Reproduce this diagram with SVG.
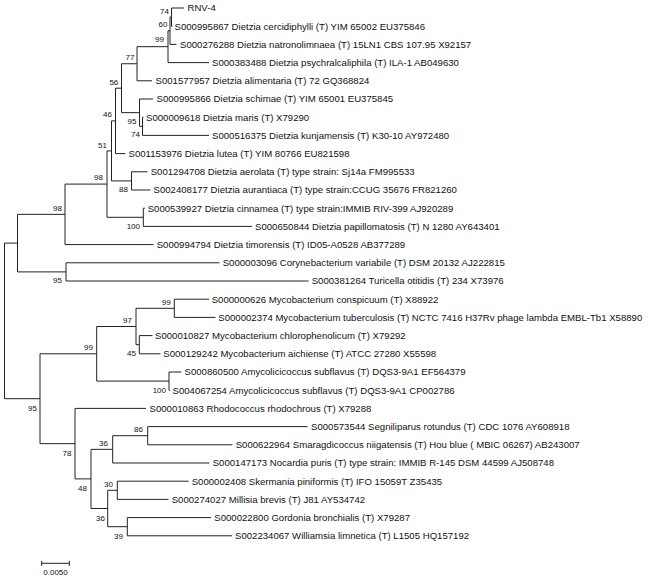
<svg xmlns="http://www.w3.org/2000/svg" width="650" height="579" viewBox="0 0 650 579">
<style>
.br{fill:none;stroke:#222;stroke-width:1}
.lf{font-family:"Liberation Sans",Arial,sans-serif;font-size:9.6px;fill:#111}
.bs{font-family:"Liberation Sans",Arial,sans-serif;font-size:8px;fill:#111;text-anchor:end}
.sc{font-family:"Liberation Sans",Arial,sans-serif;font-size:8px;fill:#111;text-anchor:middle}
</style>
<rect width="650" height="579" fill="#fff"/>
<g id="connectors" class="br">
<path d="M4.5,243.1V398.7 M4.5,243.1H17.5 M4.5,398.7H40
M17.5,214.35V271.9 M17.5,214.35H65 M17.5,271.9H66
M65,184.1V244.6 M65,184.1H107 M65,244.6H153.5
M66,262.8V281 M66,262.8H219.5 M66,281H308.5
M107,150.9V217.3 M107,150.9H111.5 M107,217.3H143.3
M143.3,208.2V226.4 M143.3,208.2H145 M143.3,226.4H252
M111.5,120.9V180.9 M111.5,120.9H115.5 M111.5,180.9H131.5
M131.5,171.8V190 M131.5,171.8H147.5 M131.5,190H150.5
M115.5,88.19V153.6 M115.5,88.19H121.5 M115.5,153.6H125.5
M121.5,63.74V112.65 M121.5,63.74H137 M121.5,112.65H139.5
M139.5,99V126.3 M139.5,99H153 M139.5,126.3H142.5
M142.5,117.2V135.4 M142.5,117.2H143.5 M142.5,135.4H209
M137,46.675V80.8 M137,46.675H168 M137,80.8H152
M168,30.75V62.6 M168,30.75H170 M168,62.6H209
M170,17.1V44.4 M170,17.1H171.5 M170,44.4H176.5
M171.5,8V26.2 M171.5,8H184 M171.5,26.2H172.5
M40,353.8V443.65 M40,353.8H96.7 M40,443.65H75
M96.7,326.5V381.1 M96.7,326.5H136 M96.7,381.1H169
M136,308.3V344.7 M136,308.3H174.3 M136,344.7H139.3
M174.3,299.2V317.4 M174.3,299.2H209 M174.3,317.4H215.5
M139.3,335.6V353.8 M139.3,335.6H152.5 M139.3,353.8H160.5
M169,372V390.2 M169,372H181.5 M169,390.2H170
M75,408.4V478.9 M75,408.4H146 M75,478.9H91
M91,449.35V508.5 M91,449.35H112.7 M91,508.5H107.7
M112.7,435.7V463 M112.7,435.7H147.7 M112.7,463H209.5
M147.7,426.6V444.8 M147.7,426.6H307.5 M147.7,444.8H232.5
M107.7,490.3V526.7 M107.7,490.3H117.3 M107.7,526.7H127.3
M117.3,481.2V499.4 M117.3,481.2H188.5 M117.3,499.4H168.5
M127.3,517.6V535.8 M127.3,517.6H211 M127.3,535.8H232"/>
</g>
<g id="leaves">
<g id="leaf1"><text class="lf" x="187.5" y="11.4">RNV-4</text></g>
<g id="leaf2"><text class="lf" x="174.5" y="29.6">S000995867 Dietzia cercidiphylli (T) YIM 65002 EU375846</text></g>
<g id="leaf3"><text class="lf" x="180" y="47.8">S000276288 Dietzia natronolimnaea (T) 15LN1 CBS 107.95 X92157</text></g>
<g id="leaf4"><text class="lf" x="212" y="66">S000383488 Dietzia psychralcaliphila (T) ILA-1 AB049630</text></g>
<g id="leaf5"><text class="lf" x="155.5" y="84.2">S001577957 Dietzia alimentaria (T) 72 GQ368824</text></g>
<g id="leaf6"><text class="lf" x="156.5" y="102.4">S000995866 Dietzia schimae (T) YIM 65001 EU375845</text></g>
<g id="leaf7"><text class="lf" x="146" y="120.6">S000009618 Dietzia maris (T) X79290</text></g>
<g id="leaf8"><text class="lf" x="212" y="138.8">S000516375 Dietzia kunjamensis (T) K30-10 AY972480</text></g>
<g id="leaf9"><text class="lf" x="128.5" y="157">S001153976 Dietzia lutea (T) YIM 80766 EU821598</text></g>
<g id="leaf10"><text class="lf" x="150.7" y="175.2">S001294708 Dietzia aerolata (T) type strain: Sj14a FM995533</text></g>
<g id="leaf11"><text class="lf" x="153.5" y="193.4">S002408177 Dietzia aurantiaca (T) type strain:CCUG 35676 FR821260</text></g>
<g id="leaf12"><text class="lf" x="147.7" y="211.6">S000539927 Dietzia cinnamea (T) type strain:IMMIB RIV-399 AJ920289</text></g>
<g id="leaf13"><text class="lf" x="255" y="229.8">S000650844 Dietzia papillomatosis (T) N 1280 AY643401</text></g>
<g id="leaf14"><text class="lf" x="156.7" y="248">S000994794 Dietzia timorensis (T) ID05-A0528 AB377289</text></g>
<g id="leaf15"><text class="lf" x="222.7" y="266.2">S000003096 Corynebacterium variabile (T) DSM 20132 AJ222815</text></g>
<g id="leaf16"><text class="lf" x="311.7" y="284.4">S000381264 Turicella otitidis (T) 234 X73976</text></g>
<g id="leaf17"><text class="lf" x="211.7" y="302.6">S000000626 Mycobacterium conspicuum (T) X88922</text></g>
<g id="leaf18"><text class="lf" x="218.3" y="320.8">S000002374 Mycobacterium tuberculosis (T) NCTC 7416 H37Rv phage lambda EMBL-Tb1 X58890</text></g>
<g id="leaf19"><text class="lf" x="155" y="339">S000010827 Mycobacterium chlorophenolicum (T) X79292</text></g>
<g id="leaf20"><text class="lf" x="163.3" y="357.2">S000129242 Mycobacterium aichiense (T) ATCC 27280 X55598</text></g>
<g id="leaf21"><text class="lf" x="184.5" y="375.4">S000860500 Amycolicicoccus subflavus (T) DQS3-9A1 EF564379</text></g>
<g id="leaf22"><text class="lf" x="172.5" y="393.6">S004067254 Amycolicicoccus subflavus (T) DQS3-9A1 CP002786</text></g>
<g id="leaf23"><text class="lf" x="149.5" y="411.8">S000010863 Rhodococcus rhodochrous (T) X79288</text></g>
<g id="leaf24"><text class="lf" x="311" y="430">S000573544 Segniliparus rotundus (T) CDC 1076 AY608918</text></g>
<g id="leaf25"><text class="lf" x="235.7" y="448.2">S000622964 Smaragdicoccus niigatensis (T) Hou blue ( MBIC 06267) AB243007</text></g>
<g id="leaf26"><text class="lf" x="212.7" y="466.4">S000147173 Nocardia puris (T) type strain: IMMIB R-145 DSM 44599 AJ508748</text></g>
<g id="leaf27"><text class="lf" x="191.7" y="484.6">S000002408 Skermania piniformis (T) IFO 15059T Z35435</text></g>
<g id="leaf28"><text class="lf" x="171.7" y="502.8">S000274027 Millisia brevis (T) J81 AY534742</text></g>
<g id="leaf29"><text class="lf" x="214.3" y="521">S000022800 Gordonia bronchialis (T) X79287</text></g>
<g id="leaf30"><text class="lf" x="235" y="539.2">S002234067 Williamsia limnetica (T) L1505 HQ157192</text></g>
</g>
<g id="nodes">
<g id="nC"><text class="bs" x="169" y="13.6">74</text></g>
<g id="nB"><text class="bs" x="167.5" y="27.4">60</text></g>
<g id="nA"><text class="bs" x="164" y="42.2">99</text></g>
<g id="nD"><text class="bs" x="134.5" y="59.9">77</text></g>
<g id="nE"><text class="bs" x="118.3" y="84.6">56</text></g>
<g id="nF"><text class="bs" x="136.5" y="123.9">95</text></g>
<g id="nG"><text class="bs" x="140" y="137.4">74</text></g>
<g id="nH"><text class="bs" x="112" y="117.4">46</text></g>
<g id="nI"><text class="bs" x="107" y="147.9">51</text></g>
<g id="nJ"><text class="bs" x="128" y="191.9">88</text></g>
<g id="nK"><text class="bs" x="103" y="180.4">98</text></g>
<g id="nL"><text class="bs" x="140" y="228.9">100</text></g>
<g id="nM"><text class="bs" x="62" y="211.2">98</text></g>
<g id="nO"><text class="bs" x="62" y="282.9">95</text></g>
<g id="nP"><text class="bs" x="170.7" y="305.2">99</text></g>
<g id="nR"><text class="bs" x="132" y="322.9">97</text></g>
<g id="nQ"><text class="bs" x="136" y="356.2">45</text></g>
<g id="nT"><text class="bs" x="93" y="349.6">99</text></g>
<g id="nS"><text class="bs" x="166" y="392.9">100</text></g>
<g id="nU"><text class="bs" x="37" y="410.6">95</text></g>
<g id="nV"><text class="bs" x="71.5" y="455.6">78</text></g>
<g id="nZ"><text class="bs" x="143" y="432.2">86</text></g>
<g id="nX"><text class="bs" x="108" y="445.6">36</text></g>
<g id="nW"><text class="bs" x="87" y="490.6">48</text></g>
<g id="nAA"><text class="bs" x="113" y="487.2">30</text></g>
<g id="nY"><text class="bs" x="105" y="520.6">36</text></g>
<g id="nBB"><text class="bs" x="123" y="538.6">39</text></g>
</g>
<g id="scale">
<path class="br" d="M41.7,563.3H69.3 M41.7,560.8V566 M69.3,560.8V566"/>
<text class="sc" x="55.5" y="574.6">0.0050</text>
</g>
</svg>
